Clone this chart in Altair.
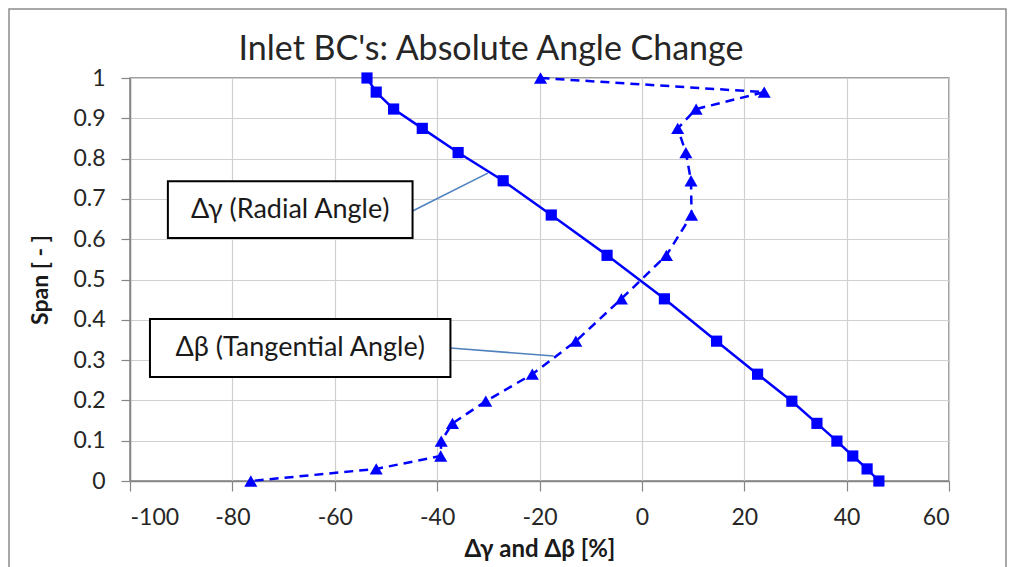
import altair as alt
import pandas as pd

# ---- data ----
span = [1.0, 0.965, 0.923, 0.875, 0.815, 0.745, 0.66, 0.56, 0.452, 0.347,
        0.265, 0.198, 0.143, 0.099, 0.062, 0.030, 0.0]
d_gamma = [-53.7, -51.9, -48.5, -42.9, -35.9, -27.1, -17.7, -6.8, 4.4, 14.6,
           22.6, 29.3, 34.2, 38.1, 41.2, 44.0, 46.3]
d_beta = [-19.8, 23.9, 10.6, 7.0, 8.6, 9.6, 9.7, 4.8, -4.0, -12.9,
          -21.4, -30.5, -37.0, -39.2, -39.3, -51.9, -76.4]

x_ticks = [-100, -80, -60, -40, -20, 0, 20, 40, 60]
y_ticks = [0, 0.1, 0.2, 0.3, 0.4, 0.5, 0.6, 0.7, 0.8, 0.9, 1]

TITLE = "Inlet BC's: Absolute Angle Change"

# annotation callouts (data coordinates)
ann_text = ["Δγ (Radial Angle)", "Δβ (Tangential Angle)"]
ann_x1 = [-92.6, -96.1]
ann_x2 = [-44.8, -37.4]
ann_y1 = [0.603, 0.258]
ann_y2 = [0.744, 0.402]
lead_x1 = [-44.8, -37.4]
lead_y1 = [0.670, 0.330]
lead_x2 = [-30.1, -17.2]
lead_y2 = [0.764, 0.310]

FONT = "Lato"
BLUE = "#0000ff"

df_g = pd.DataFrame({"x": d_gamma, "y": span, "i": range(len(span))})
df_b = pd.DataFrame({"x": d_beta, "y": span, "i": range(len(span))})
df_ann = pd.DataFrame({
    "t": ann_text, "x1": ann_x1, "x2": ann_x2, "y1": ann_y1, "y2": ann_y2,
    "lx1": lead_x1, "ly1": lead_y1, "lx2": lead_x2, "ly2": lead_y2,
})
df_ann["xm"] = (df_ann.x1 + df_ann.x2) / 2
df_ann["ym"] = (df_ann.y1 + df_ann.y2) / 2

xs = alt.Scale(domain=[-100, 60], nice=False, zero=False)
ys = alt.Scale(domain=[0, 1], nice=False, zero=False)

x_axis = alt.Axis(values=x_ticks, title="Δγ and Δβ [%]",
                  labelExpr="replace(format(datum.value, '~g'), '−', '-')",
                  tickSize=10, labelPadding=15, titlePadding=8, titleFontSize=24)
y_axis = alt.Axis(values=y_ticks, title="Span [ - ]",
                  labelExpr="format(datum.value, '~g')",
                  tickSize=9, labelPadding=16, titlePadding=20)

X = alt.X("x:Q", scale=xs, axis=x_axis)
Y = alt.Y("y:Q", scale=ys, axis=y_axis)

gamma_line = alt.Chart(df_g).mark_line(color=BLUE, strokeWidth=2.5).encode(
    x=X, y=Y, order="i:Q")
gamma_pts = alt.Chart(df_g).mark_point(
    shape="square", filled=True, color=BLUE, size=125, opacity=1).encode(x="x:Q", y="y:Q")

beta_line = alt.Chart(df_b).mark_line(color=BLUE, strokeWidth=2.5,
                                      strokeDash=[9, 6]).encode(
    x="x:Q", y="y:Q", order="i:Q")
beta_pts = alt.Chart(df_b).mark_point(
    shape="triangle-up", filled=True, color=BLUE, size=170, opacity=1).encode(x="x:Q", y="y:Q")

leaders = alt.Chart(df_ann).mark_rule(color="#4f81bd", strokeWidth=1.6).encode(
    x="lx1:Q", y="ly1:Q", x2="lx2:Q", y2="ly2:Q")
boxes = alt.Chart(df_ann).mark_rect(fill="white", stroke="black",
                                    strokeWidth=2).encode(
    x="x1:Q", x2="x2:Q", y="y1:Q", y2="y2:Q")
labels = alt.Chart(df_ann).mark_text(font=FONT, fontSize=27, color="#1a1a1a",
                                     baseline="middle", align="center").encode(
    x="xm:Q", y="ym:Q", text="t:N")

frame = alt.Chart(alt.Data(values=[{}])).mark_rect(
    fill=None, stroke="#8c8c8c", strokeWidth=1.5).encode(
    x=alt.value(-121), x2=alt.value(876), y=alt.value(-69), y2=alt.value(570))

title_mark = alt.Chart(alt.Data(values=[{}])).mark_text(
    text=TITLE, font=FONT, fontSize=34, color="#262626",
    align="center", baseline="alphabetic").encode(
    x=alt.value(361), y=alt.value(-18))

chart = alt.layer(
    gamma_line, beta_line, leaders, boxes, labels, gamma_pts, beta_pts,
    frame, title_mark
).properties(
    width=819, height=403,
    background="white",
    autosize=alt.AutoSizeParams(type="none"),
    padding={"left": 122, "top": 70, "right": 58, "bottom": 86},
).configure_view(
    stroke="#808080", strokeWidth=1.5
).configure_axis(
    labelFont=FONT, labelFontSize=23, labelColor="#262626",
    titleFont=FONT, titleFontSize=23, titleFontWeight="bold", titleColor="#1a1a1a",
    gridColor="#d0d0d0", gridWidth=1.2, domainColor="#868686", domainWidth=1.5,
    tickColor="#868686", tickWidth=1.2,
)

chart.save("out.html", embed_options={"renderer": "svg", "actions": False})
